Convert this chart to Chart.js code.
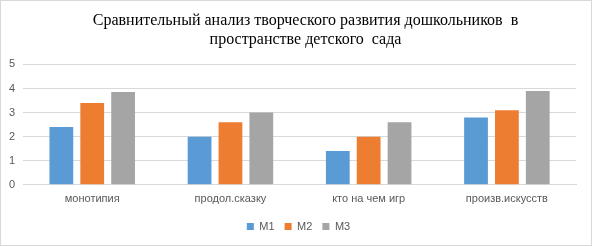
<!DOCTYPE html>
<html>
<head>
<meta charset="utf-8">
<script src="https://cdn.jsdelivr.net/npm/chart.js@4"></script>
<style>
  html, body { margin: 0; padding: 0; background: #fff; }
  #wrap { width: 592px; height: 246px; box-sizing: border-box; border: 1px solid #d9d9d9; }
</style>
</head>
<body>
<div id="wrap"><canvas id="chart" width="590" height="244"></canvas></div>
<script>
const categories = ["монотипия", "продол.сказку", "кто на чем игр", "произв.искусств"];
const m1 = [2.4, 2.0, 1.4, 2.8];
const m2 = [3.4, 2.6, 2.0, 3.1];
const m3 = [3.85, 3.0, 2.6, 3.9];
const yTicks = [0, 1, 2, 3, 4, 5];

// title and legend sit a bit right of centre in the original
const shiftBlocks = {
    id : "shiftBlocks",
    afterLayout(chart) {
        chart.titleBlock.left += 17;
        chart.titleBlock.right += 17;
        chart.legend.left += 10;
        chart.legend.right += 10;
    }
};

const ctx = document.getElementById('chart').getContext('2d');

const chart = new Chart(ctx, {
    type : "bar",
    data : {
        labels : categories,
        datasets : [
            { label : "M1", data : m1, backgroundColor : "#5b9bd5" },
            { label : "M2", data : m2, backgroundColor : "#ed7d31" },
            { label : "M3", data : m3, backgroundColor : "#a5a5a5" }
        ]
    },
    options : {
        responsive : false,
        animation : false,
        categoryPercentage : 0.67,
        barPercentage : 0.77,
        layout : { padding : { left : 0, right : 15, top : 6, bottom : 3 } },
        plugins : {
            title : {
                display : true,
                text : ["Сравнительный анализ творческого развития дошкольников  в", "пространстве детского  сада"],
                font : { family : "'Liberation Serif', serif", size : 16, weight : "normal", lineHeight : 1.2 },
                color : "#000",
                padding : { top : 4, bottom : 15 }
            },
            legend : {
                display : true,
                position : "bottom",
                labels : {
                    boxWidth : 7,
                    boxHeight : 7,
                    padding : 10,
                    color : "#595959",
                    font : { family : "'Liberation Sans', sans-serif", size : 11 }
                }
            },
            tooltip : { enabled : false }
        },
        scales : {
            x : {
                grid : { display : false },
                border : { color : "#d9d9d9" },
                ticks : { color : "#595959", font : { family : "'Liberation Sans', sans-serif", size : 11 }, padding : 0 },
                afterFit : (axis) => { axis.height += 5; }
            },
            y : {
                min : 0,
                max : 5,
                afterBuildTicks : (axis) => { axis.ticks = yTicks.map(v => ({ value : v })); },
                grid : { color : "#d9d9d9", drawTicks : false },
                border : { display : false },
                ticks : { color : "#595959", font : { family : "'Liberation Sans', sans-serif", size : 11 }, padding : 8 }
            }
        }
    },
    plugins : [shiftBlocks]
});
</script>
</body>
</html>
